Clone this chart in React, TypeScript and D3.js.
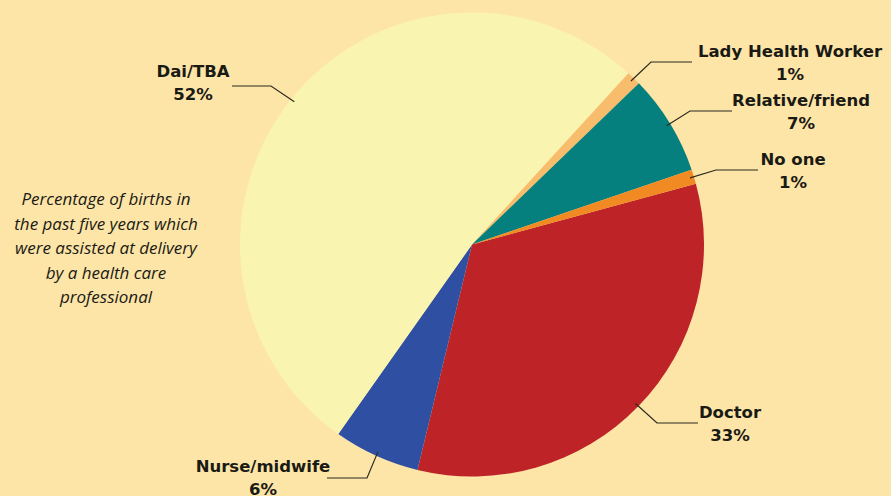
import * as d3 from "d3";
import { useEffect, useRef } from "react";

// slices, clockwise from the Doctor slice
const categories = ["Doctor", "Nurse/midwife", "Dai/TBA", "Lady Health Worker", "Relative/friend", "No one"];
const shares = [33, 6, 52, 1, 7, 1];
const colors = ["#bd2327", "#2f4fa3", "#faf4b1", "#f8bd6c", "#06807e", "#f28a24"];
const noteLines = [
    "Percentage of births in",
    "the past five years which",
    "were assisted at delivery",
    "by a health care",
    "professional",
];

// label placement: [text x, first baseline, elbow x, elbow y, end x]
const labelPos = {
    "Doctor": [730, 418, 657, 423, 698],
    "Nurse/midwife": [263, 472, 367, 478, 327],
    "Dai/TBA": [193, 77, 271, 86, 232],
    "Lady Health Worker": [790, 57, 651, 62, 692],
    "Relative/friend": [801, 106, 690, 111, 732],
    "No one": [793, 165, 716, 170, 758],
};

function App() {
    const svgRef = useRef(null);

    useEffect(() => {
        const svg = d3.select(svgRef.current);
        svg.selectAll("*").remove();

        const width = 891, height = 496;
        const cx = 472, cy = 244.5, r = 232;

        svg.append("rect")
            .attr("width", width)
            .attr("height", height)
            .attr("fill", "#fde5a8");

        const data = categories.map((c, i) => ({ name: c, value: shares[i], color: colors[i] }));

        const start = 74.8 * Math.PI / 180;
        const pie = d3.pie().sort(null).value(d => d.value)
            .startAngle(start)
            .endAngle(start + 2 * Math.PI);
        const arc = d3.arc().innerRadius(0).outerRadius(r);
        const arcs = pie(data);

        const g = svg.append("g").attr("transform", `translate(${cx}, ${cy})`);
        g.selectAll("path")
            .data(arcs)
            .enter()
            .append("path")
            .attr("d", arc)
            .attr("fill", d => d.data.color);

        // leader lines + labels
        arcs.forEach(a => {
            const [tx, ty, ex, ey, endX] = labelPos[a.data.name];
            const mid = (a.startAngle + a.endAngle) / 2;
            const px = cx + Math.sin(mid) * (r - 4);
            const py = cy - Math.cos(mid) * (r - 4);
            svg.append("polyline")
                .attr("points", `${px},${py} ${ex},${ey} ${endX},${ey}`)
                .attr("fill", "none")
                .attr("stroke", "#2a2a1e")
                .attr("stroke-width", 1.2);

            const t = svg.append("text")
                .attr("text-anchor", "middle")
                .style("font-family", "'DejaVu Sans', sans-serif")
                .style("font-weight", 700)
                .style("font-size", "16.5px")
                .style("fill", "#1a1a14");
            t.append("tspan").attr("x", tx).attr("y", ty).text(a.data.name);
            t.append("tspan").attr("x", tx).attr("y", ty + 23).text(`${a.data.value}%`);
        });

        const note = svg.append("text")
            .attr("text-anchor", "middle")
            .style("font-family", "'Open Sans', Lato, sans-serif")
            .style("font-style", "italic")
            .style("font-size", "17px")
            .style("fill", "#1a1a14");
        noteLines.forEach((line, i) => {
            note.append("tspan")
                .attr("x", 106)
                .attr("y", 205 + i * 24.5)
                .text(line);
        });
    }, []);

    return (
        <svg
            ref={svgRef}
            width={891}
            height={496}
            style={{ position: "absolute", left: 0, top: 0, display: "block" }}
        ></svg>
    );
}

export default App;
